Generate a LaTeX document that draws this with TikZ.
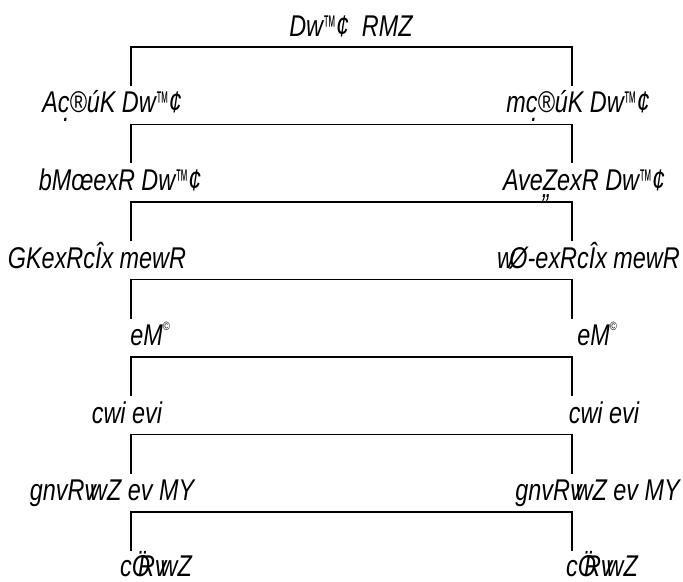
\documentclass[tikz,border=0pt]{standalone}
\usepackage{fontspec}
\setmainfont{Liberation Sans}[FakeStretch=0.78]
\begin{document}
\begin{tikzpicture}[x=1bp,y=-1bp,
  lbl/.style={font=\fontsize{30bp}{32bp}\selectfont\itshape, inner sep=0pt, anchor=base},
  conn/.style={line width=1.6bp}]
\useasboundingbox (0,0) rectangle (683,582);
\newcommand{\udot}{\llap{\raisebox{-0.3em}{.}}}
\newcommand{\rri}{\makebox[0pt][l]{\raisebox{-0.25em}{„}}}
\newcommand{\tmk}{\scalebox{0.55}[1]{™}}
\newcommand{\cpy}{\raisebox{0.5em}{\fontsize{12bp}{12bp}\selectfont ©}}
\node[lbl] (t) at (351,37) {Dw\tmk¢\ \ RMZ};
% labels
\node[lbl] (l1) at (112,113) {Ac\udot®úK Dw\tmk¢};
\node[lbl] (r1) at (578,113) {mc\udot®úK Dw\tmk¢};
\node[lbl] (l2) at (120,190.5) {bMœexR Dw\tmk¢};
\node[lbl] (r2) at (584,190.5) {Ave\rri ZexR Dw\tmk¢};
\node[lbl] (l3) at (97,268) {GKexRcÎx mewR};
\node[lbl, anchor=base east] (r3) at (680,268) {w\kern-0.15em Ø-exRcÎx mewR};
\node[lbl] (l4) at (150,345.5) {eM\cpy};
\node[lbl] (r4) at (597,345.5) {eM\cpy};
\node[lbl] (l5) at (127,423) {cwi evi};
\node[lbl] (r5) at (604,423) {cwi evi};
\node[lbl] (l6) at (112,500.5) {gnvRv\kern-0.2em wZ ev MY};
\node[lbl, anchor=base east] (r6) at (680,500.5) {gnvRv\kern-0.2em wZ ev MY};
\node[lbl] (l7) at (156,576) {cÖ\kern-0.4em Rv\kern-0.2em wZ};
\node[lbl] (r7) at (602,576) {cÖ\kern-0.4em Rv\kern-0.2em wZ};
% brackets
\foreach \k/\y in {1/47,2/124.5,3/202,4/279.5,5/357,6/434.5,7/512}{
  \coordinate (a\k) at (131,\y+39);
  \coordinate (b\k) at (131,\y);
  \coordinate (c\k) at (572,\y);
  \coordinate (d\k) at (572,\y+39);
  \draw[conn] (a\k) -- (b\k) -- (c\k) -- (d\k);
}
\end{tikzpicture}
\end{document}
